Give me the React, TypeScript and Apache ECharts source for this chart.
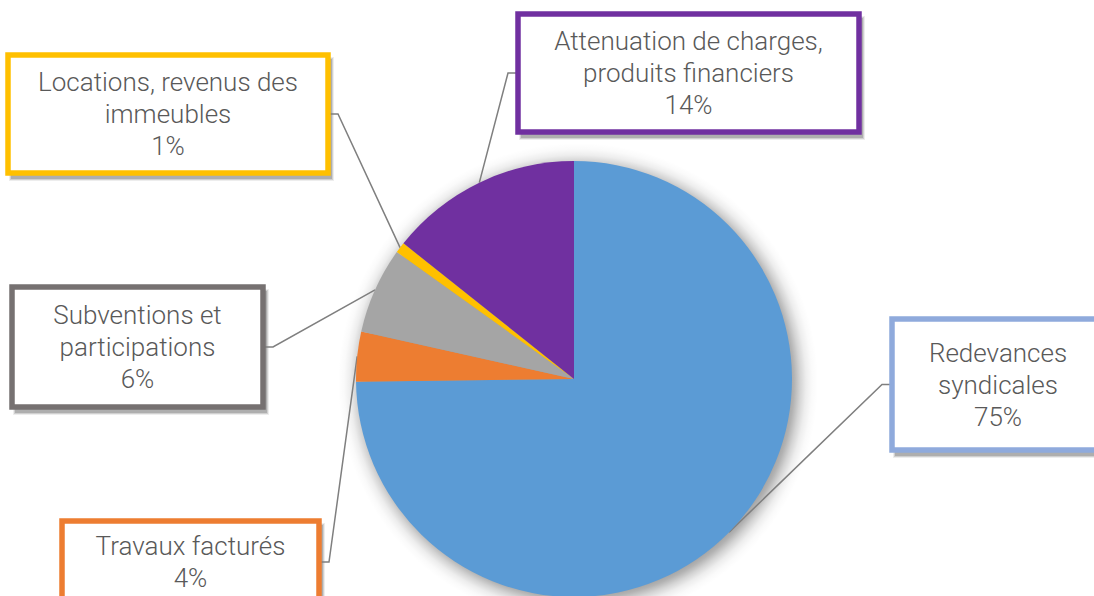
import React, { useEffect, useRef } from 'react';
import * as echarts from 'echarts';

const categories = [
  'Redevances\nsyndicales',
  'Travaux facturés',
  'Subventions et\nparticipations',
  'Locations, revenus des\nimmeubles',
  'Attenuation de charges,\nproduits financiers',
];
const values = [74.8, 3.7, 6.4, 0.8, 14.3];
const sliceColors = ['#5B9BD5', '#ED7D31', '#A5A5A5', '#FFC000', '#7030A0'];
const labelBorderColors = ['#8FAADC', '#ED7D31', '#767171', '#FFC000', '#7030A0'];
// outer label boxes [left, top, width, height] in px
const labelBoxes = [
  [892, 319, 212, 131],
  [62, 521, 257, 82],
  [12, 287, 251, 120],
  [8, 55, 320, 118],
  [518, 14, 341, 118],
];

const CENTER = [574, 379];
const RADIUS = 218;
const SHADOW_R = RADIUS + 22;
const BORDER = 5.5;
const PAD_H = 8;
const LINE_H = 32;

export default function App() {
  const ref = useRef<HTMLDivElement>(null);
  useEffect(() => {
    if (!ref.current) return;
    const chart = echarts.init(ref.current, null, { renderer: 'svg' });
    const data = categories.map((name, i) => {
      const [, , bw, bh] = labelBoxes[i];
      const lines = name.split('\n').length + 1;
      const padV = (bh - BORDER - lines * LINE_H) / 2;
      return {
        name,
        value: values[i],
        itemStyle: { color: sliceColors[i] },
        label: {
          borderColor: labelBorderColors[i],
          width: bw - BORDER - 2 * PAD_H,
          padding: [padV, PAD_H],
        },
      };
    });
    const rel = (r: number) => r / SHADOW_R;
    const shadowGradient = new echarts.graphic.RadialGradient(0.5, 0.5, 0.5, [
      { offset: 0, color: 'rgba(0,0,0,0.38)' },
      { offset: rel(RADIUS - 8), color: 'rgba(0,0,0,0.38)' },
      { offset: rel(RADIUS - 2), color: 'rgba(0,0,0,0.3)' },
      { offset: rel(RADIUS + 4), color: 'rgba(0,0,0,0.17)' },
      { offset: rel(RADIUS + 10), color: 'rgba(0,0,0,0.07)' },
      { offset: rel(RADIUS + 16), color: 'rgba(0,0,0,0.02)' },
      { offset: 1, color: 'rgba(0,0,0,0)' },
    ]);
    const layers = [
      [1, 2, 5, 6, 0.07],
      [2, 3, 3, 4, 0.12],
      [3, 4, 1, 2, 0.16],
    ];
    const boxShadows = labelBoxes.flatMap(([bx, by, bw, bh]) =>
      layers.map(([dx, dy, dw, dh, a]) => ({
        type: 'rect',
        z: 0,
        silent: true,
        shape: { x: bx + dx, y: by + dy, width: bw + dw, height: bh + dh },
        style: { fill: `rgba(0,0,0,${a})` },
      }))
    );
    chart.setOption({
      animation: false,
      backgroundColor: '#ffffff',
      graphic: { elements: boxShadows },
      series: [
        {
          type: 'pie',
          silent: true,
          center: [CENTER[0] + 4, CENTER[1] + 4],
          radius: SHADOW_R,
          z: 1,
          label: { show: false },
          labelLine: { show: false },
          itemStyle: { color: shadowGradient },
          data: [{ value: 1, name: 'shadow' }],
        },
        {
          type: 'pie',
          center: CENTER,
          radius: RADIUS,
          startAngle: 90,
          clockwise: true,
          z: 2,
          avoidLabelOverlap: false,
          silent: true,
          emphasis: { disabled: true },
          label: {
            show: true,
            position: 'outside',
            formatter: (p: any) => `${p.name}\n${Math.round(p.percent)}%`,
            color: '#595959',
            fontFamily: 'Roboto',
            fontWeight: 300,
            fontSize: 26,
            lineHeight: LINE_H,
            align: 'center',
            backgroundColor: '#ffffff',
            borderWidth: BORDER,
          },
          labelLine: {
            show: true,
            length: 10,
            length2: 10,
            lineStyle: { color: '#7F7F7F', width: 1.5 },
          },
          labelLayout: (params: any) => {
            const i = params.dataIndex;
            const [bx, by, bw, bh] = labelBoxes[i];
            const cx = bx + bw / 2;
            const cy = by + bh / 2;
            const anchor = params.labelLinePoints ? params.labelLinePoints[0] : [cx, cy];
            const right = anchor[0] > cx;
            const edgeX = right ? bx + bw : bx;
            const elbowX = right ? edgeX + 10 : edgeX - 10;
            return {
              x: cx,
              y: cy,
              align: 'center',
              verticalAlign: 'middle',
              labelLinePoints: [anchor, [elbowX, cy], [edgeX, cy]],
            };
          },
          data,
        },
      ],
    });
    return () => chart.dispose();
  }, []);
  return (
    <div
      ref={ref}
      style={{ position: 'absolute', left: 0, top: 0, width: 1094, height: 596 }}
    />
  );
}
